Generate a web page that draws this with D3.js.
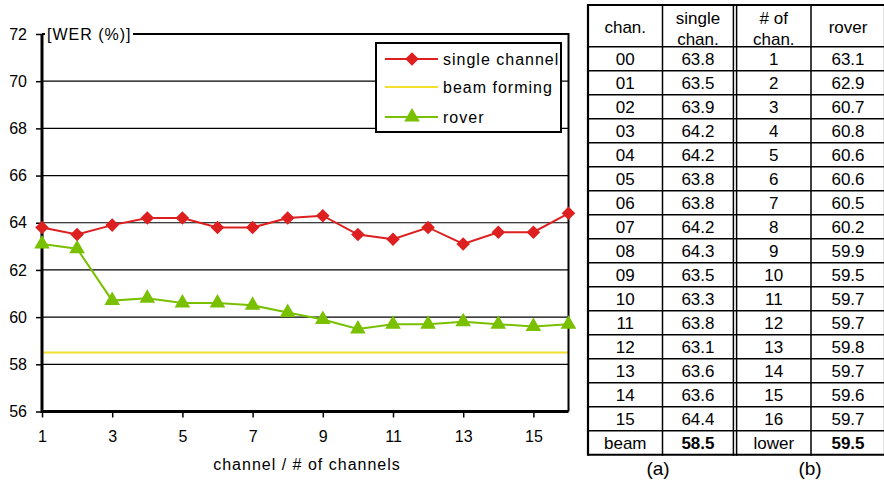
<!DOCTYPE html>
<html>
<head>
<meta charset="utf-8">
<script src="https://cdn.jsdelivr.net/npm/d3@7"></script>
<style>
  body { margin: 0; background: #fff; }
  text { font-family: "Liberation Sans", Arial, sans-serif; fill: #000; }
</style>
</head>
<body>
<script>
// Data
const channels = [1, 2, 3, 4, 5, 6, 7, 8, 9, 10, 11, 12, 13, 14, 15, 16];
const singleChannel = [63.8, 63.5, 63.9, 64.2, 64.2, 63.8, 63.8, 64.2, 64.3, 63.5, 63.3, 63.8, 63.1, 63.6, 63.6, 64.4];
const rover = [63.1, 62.9, 60.7, 60.8, 60.6, 60.6, 60.5, 60.2, 59.9, 59.5, 59.7, 59.7, 59.8, 59.7, 59.6, 59.7];
const beamForming = 58.5;
const roverLower = 59.5;
const yTicks = [56, 58, 60, 62, 64, 66, 68, 70, 72];
const xTicks = [1, 3, 5, 7, 9, 11, 13, 15];
const chanLabels = ["00", "01", "02", "03", "04", "05", "06", "07", "08", "09", "10", "11", "12", "13", "14", "15"];

const red = "#dd1f1f", yellow = "#f2e02c", green = "#78c000";

const svg = d3.select("body").append("svg")
  .attr("width", 884)
  .attr("height", 482);

// Scales
const x = d3.scaleLinear().domain([1, 16]).range([42, 568.5]);
const y = d3.scaleLinear().domain([56, 72]).range([411.5, 34]);

// Grid lines
svg.append("g")
  .selectAll("line")
  .data(yTicks.filter(d => d > 56 && d < 72))
  .join("line")
    .attr("x1", x(1)).attr("x2", x(16))
    .attr("y1", d => y(d)).attr("y2", d => y(d))
    .attr("stroke", "#000").attr("stroke-width", 1.2);

// Beam forming line
svg.append("line")
  .attr("x1", x(1)).attr("x2", x(16))
  .attr("y1", y(beamForming)).attr("y2", y(beamForming))
  .attr("stroke", yellow).attr("stroke-width", 2);

// Frame: top and right
svg.append("path")
  .attr("d", `M${x(1)},${y(72)}H${x(16)}V${y(56)}`)
  .attr("fill", "none").attr("stroke", "#000").attr("stroke-width", 2);

// Y axis
const yAxis = svg.append("g")
  .attr("transform", `translate(${x(1)},0)`)
  .call(d3.axisLeft(y).tickValues(yTicks).tickSize(6).tickPadding(9).tickFormat(d3.format("d")));
yAxis.select(".domain").remove();
yAxis.selectAll(".tick line").attr("stroke", "#000").attr("stroke-width", 1.5);
yAxis.selectAll("text").attr("font-size", 16).attr("fill", "#000");

// X axis
const xAxis = svg.append("g")
  .attr("transform", `translate(0,${y(56)})`)
  .call(d3.axisBottom(x).tickValues(xTicks).tickSize(6).tickPadding(13).tickFormat(d3.format("d")));
xAxis.select(".domain").remove();
xAxis.selectAll(".tick line").attr("stroke", "#000").attr("stroke-width", 1.5);
xAxis.selectAll("text").attr("font-size", 16).attr("fill", "#000");

// Thick left and bottom axis lines
svg.append("path")
  .attr("d", `M${x(1)},${y(72)}V${y(56)}H${x(16)}`)
  .attr("fill", "none").attr("stroke", "#000").attr("stroke-width", 3);

// Y label on top border
svg.append("rect")
  .attr("x", 45).attr("y", y(72) - 9).attr("width", 88).attr("height", 18)
  .attr("fill", "#fff");
svg.append("text")
  .attr("x", 47).attr("y", y(72)).attr("dy", "0.35em")
  .attr("font-size", 16).attr("letter-spacing", 1)
  .text("[WER (%)]");

// X label
svg.append("text")
  .attr("x", 307).attr("y", 470)
  .attr("text-anchor", "middle")
  .attr("font-size", 16).attr("letter-spacing", 1)
  .text("channel / # of channels");

// Lines
const line = d3.line()
  .x((d, i) => x(channels[i]))
  .y(d => y(d));

svg.append("path")
  .datum(rover)
  .attr("fill", "none").attr("stroke", green).attr("stroke-width", 2)
  .attr("d", line);

svg.append("path")
  .datum(singleChannel)
  .attr("fill", "none").attr("stroke", red).attr("stroke-width", 2)
  .attr("d", line);

const diamond = d3.symbol().type(d3.symbolSquare).size(92);
const triangle = d3.symbol().type(d3.symbolTriangle).size(105);

svg.append("g")
  .selectAll("path")
  .data(rover)
  .join("path")
    .attr("d", triangle)
    .attr("transform", (d, i) => `translate(${x(channels[i])},${y(d)})`)
    .attr("fill", green);

svg.append("g")
  .selectAll("path")
  .data(singleChannel)
  .join("path")
    .attr("d", diamond)
    .attr("transform", (d, i) => `translate(${x(channels[i])},${y(d)}) rotate(45)`)
    .attr("fill", red);

// Legend
const legend = svg.append("g");
legend.append("rect")
  .attr("x", 376).attr("y", 43).attr("width", 185).attr("height", 89)
  .attr("fill", "#fff").attr("stroke", "#000").attr("stroke-width", 2);

const legendItems = [
  { name: "single channel", color: red, symbol: diamond, rot: 45, y: 59 },
  { name: "beam forming", color: yellow, symbol: null, y: 87 },
  { name: "rover", color: green, symbol: triangle, rot: 0, y: 117 }
];
legendItems.forEach(it => {
  legend.append("line")
    .attr("x1", 385).attr("x2", 438).attr("y1", it.y).attr("y2", it.y)
    .attr("stroke", it.color).attr("stroke-width", 2);
  if (it.symbol) {
    legend.append("path")
      .attr("d", it.symbol)
      .attr("transform", `translate(412,${it.y}) rotate(${it.rot})`)
      .attr("fill", it.color);
  }
  legend.append("text")
    .attr("x", 443).attr("y", it.y).attr("dy", "0.35em")
    .attr("font-size", 16).attr("letter-spacing", 1)
    .text(it.name);
});

// Table
const colX = [588, 662.5, 735, 811, 885];
const headTop = 5, headBottom = 46.7, rowH = 24;
const nRows = chanLabels.length + 1;
const tableBottom = headBottom + nRows * rowH;
const table = svg.append("g");

const rows = chanLabels.map((c, i) => [c, singleChannel[i].toFixed(1), String(channels[i]), rover[i].toFixed(1)]);
rows.push(["beam", beamForming.toFixed(1), "lower", roverLower.toFixed(1)]);

// Horizontal lines
const hLines = [headTop, headBottom].concat(d3.range(1, nRows + 1).map(i => headBottom + i * rowH));
table.selectAll("line.h")
  .data(hLines)
  .join("line")
    .attr("class", "h")
    .attr("x1", colX[0]).attr("x2", colX[4])
    .attr("y1", d => d).attr("y2", d => d)
    .attr("stroke", "#000")
    .attr("stroke-width", (d, i) => (i === 0 || i === hLines.length - 1) ? 2 : 1.5);

// Vertical lines (double line in the middle)
const vLines = [colX[0], colX[1], colX[2] - 1.6, colX[2] + 1.6, colX[3], colX[4]];
table.selectAll("line.v")
  .data(vLines)
  .join("line")
    .attr("class", "v")
    .attr("x1", d => d).attr("x2", d => d)
    .attr("y1", headTop - 1).attr("y2", tableBottom + 1)
    .attr("stroke", "#000")
    .attr("stroke-width", (d, i) => (i === 0 || i === 5) ? 2.2 : 1.5);

const colCenter = [0, 1, 2, 3].map(i => {
  const a = i === 2 ? colX[2] + 1.6 : colX[i];
  const b = i === 1 ? colX[2] - 1.6 : colX[i + 1];
  return (a + b) / 2;
});

// Header
const headers = [["chan."], ["single", "chan."], ["# of", "chan."], ["rover"]];
headers.forEach((h, i) => {
  h.forEach((t, j) => {
    const cy = h.length === 1 ? 27 : (j === 0 ? 18 : 39);
    table.append("text")
      .attr("x", colCenter[i]).attr("y", cy).attr("dy", "0.35em")
      .attr("text-anchor", "middle")
      .attr("font-size", 17)
      .text(t);
  });
});

rows.forEach((r, ri) => {
  const cy = headBottom + ri * rowH + rowH / 2 + 0.5;
  r.forEach((t, ci) => {
    table.append("text")
      .attr("x", colCenter[ci]).attr("y", cy).attr("dy", "0.35em")
      .attr("text-anchor", "middle")
      .attr("font-size", 17)
      .attr("font-weight", (ri === rows.length - 1 && (ci === 1 || ci === 3)) ? "bold" : null)
      .text(t);
  });
});

// Captions
table.append("text")
  .attr("x", 658).attr("y", 475)
  .attr("text-anchor", "middle").attr("font-size", 19)
  .text("(a)");
table.append("text")
  .attr("x", 810).attr("y", 475)
  .attr("text-anchor", "middle").attr("font-size", 19)
  .text("(b)");
</script>
</body>
</html>
